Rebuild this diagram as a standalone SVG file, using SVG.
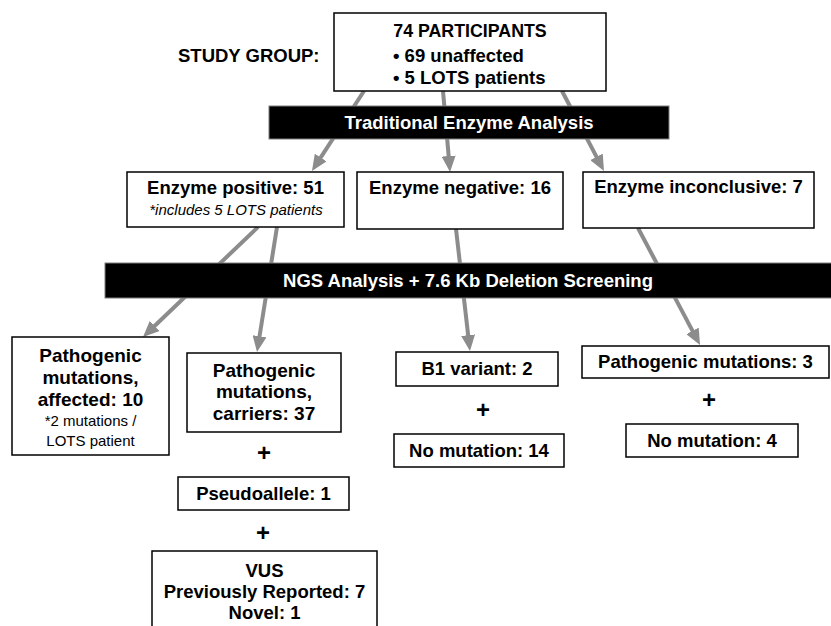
<svg xmlns="http://www.w3.org/2000/svg" width="831" height="626" viewBox="0 0 831 626">
<style>
text{font-family:"Liberation Sans",Arial,sans-serif;fill:#000}
.b{font-weight:bold;font-size:18.5px}
.t{font-weight:bold;font-size:17.8px}
.s{font-size:15px}
.i{font-size:15px;font-style:italic}
.w{fill:#fff;font-weight:bold;font-size:18.5px}
.p{font-weight:bold;font-size:24px}
.box{fill:#fff;stroke:#000;stroke-width:1.5}
.bar{fill:#000;stroke:#7f7f7f;stroke-width:1}
.c{fill:none;stroke:#8c8c8c;stroke-width:4;marker-end:url(#ah)}
</style>
<defs>
<marker id="ah" markerUnits="userSpaceOnUse" viewBox="0 0 16 14" markerWidth="16" markerHeight="14" refX="4" refY="7" orient="auto">
<path d="M0,0 L16,7 L0,14 z" fill="#8c8c8c"/>
</marker>
</defs>
<rect width="831" height="626" fill="#fff"/>
<g id="connectors">
<path class="c" d="M364,91 L318.5,160.9"/>
<path class="c" d="M443,91 L449,160"/>
<path class="c" d="M562,91 L598.4,160.4"/>
<path class="c" d="M258,227 L151.7,328.7"/>
<path class="c" d="M277,227 L258.9,340.2"/>
<path class="c" d="M456,229 L468.6,339.1"/>
<path class="c" d="M638,228 L694.4,334.4"/>
</g>
<g id="study-label"><text class="b" x="178" y="62">STUDY GROUP:</text></g>
<g id="participants">
<rect class="box" x="334" y="13" width="272" height="78"/>
<text class="t" x="470" y="37" text-anchor="middle">74 PARTICIPANTS</text>
<text class="b" x="393" y="62">• 69 unaffected</text>
<text class="b" x="393" y="84">• 5 LOTS patients</text>
</g>
<g id="bar-enzyme">
<rect class="bar" x="269" y="106" width="400" height="33"/>
<text class="w" x="469" y="129" text-anchor="middle">Traditional Enzyme Analysis</text>
</g>
<g id="enzyme-positive">
<rect class="box" x="127" y="172" width="217" height="55"/>
<text class="b" x="235.5" y="194" text-anchor="middle">Enzyme positive: 51</text>
<text class="i" x="236" y="215" text-anchor="middle">*includes 5 LOTS patients</text>
</g>
<g id="enzyme-negative">
<rect class="box" x="357" y="172" width="206" height="57"/>
<text class="b" x="460" y="194" text-anchor="middle">Enzyme negative: 16</text>
</g>
<g id="enzyme-inconclusive">
<rect class="box" x="583" y="172" width="231" height="56"/>
<text class="b" x="698.5" y="193" text-anchor="middle">Enzyme inconclusive: 7</text>
</g>
<g id="bar-ngs">
<rect class="bar" x="105" y="263" width="730" height="35"/>
<text class="w" x="468" y="287" text-anchor="middle">NGS Analysis + 7.6 Kb Deletion Screening</text>
</g>
<g id="path-affected">
<rect class="box" x="12" y="337" width="157" height="118"/>
<text class="b" x="90.5" y="362" text-anchor="middle" style="font-size:19px">Pathogenic</text>
<text class="b" x="90.5" y="384" text-anchor="middle" style="font-size:19px">mutations,</text>
<text class="b" x="90.5" y="406" text-anchor="middle" style="font-size:19px">affected: 10</text>
<text class="s" x="90.5" y="426" text-anchor="middle">*2 mutations /</text>
<text class="s" x="90.5" y="446" text-anchor="middle">LOTS patient</text>
</g>
<g id="path-carriers">
<rect class="box" x="187" y="353" width="154" height="79"/>
<text class="b" x="264" y="377" text-anchor="middle" style="font-size:19px">Pathogenic</text>
<text class="b" x="264" y="398" text-anchor="middle" style="font-size:19px">mutations,</text>
<text class="b" x="264" y="420" text-anchor="middle" style="font-size:19px">carriers: 37</text>
</g>
<g id="plus-1"><text class="p" x="264" y="461" text-anchor="middle">+</text></g>
<g id="pseudoallele">
<rect class="box" x="178" y="477" width="171" height="33"/>
<text class="b" x="263.5" y="500" text-anchor="middle">Pseudoallele: 1</text>
</g>
<g id="plus-2"><text class="p" x="263" y="541" text-anchor="middle">+</text></g>
<g id="vus">
<rect class="box" x="152" y="551" width="225" height="80"/>
<text class="b" x="264.5" y="577" text-anchor="middle">VUS</text>
<text class="b" x="264.5" y="598" text-anchor="middle">Previously Reported: 7</text>
<text class="b" x="264.5" y="619" text-anchor="middle">Novel: 1</text>
</g>
<g id="b1-variant">
<rect class="box" x="396" y="352" width="162" height="34"/>
<text class="b" x="477" y="375" text-anchor="middle">B1 variant: 2</text>
</g>
<g id="plus-3"><text class="p" x="483" y="418" text-anchor="middle">+</text></g>
<g id="no-mutation-14">
<rect class="box" x="394" y="434" width="170" height="33"/>
<text class="b" x="479" y="457" text-anchor="middle">No mutation: 14</text>
</g>
<g id="path-3">
<rect class="box" x="582" y="346" width="247" height="32"/>
<text class="b" x="705.5" y="368" text-anchor="middle">Pathogenic mutations: 3</text>
</g>
<g id="plus-4"><text class="p" x="709" y="408" text-anchor="middle">+</text></g>
<g id="no-mutation-4">
<rect class="box" x="626" y="424" width="172" height="33"/>
<text class="b" x="712" y="447" text-anchor="middle">No mutation: 4</text>
</g>
</svg>
